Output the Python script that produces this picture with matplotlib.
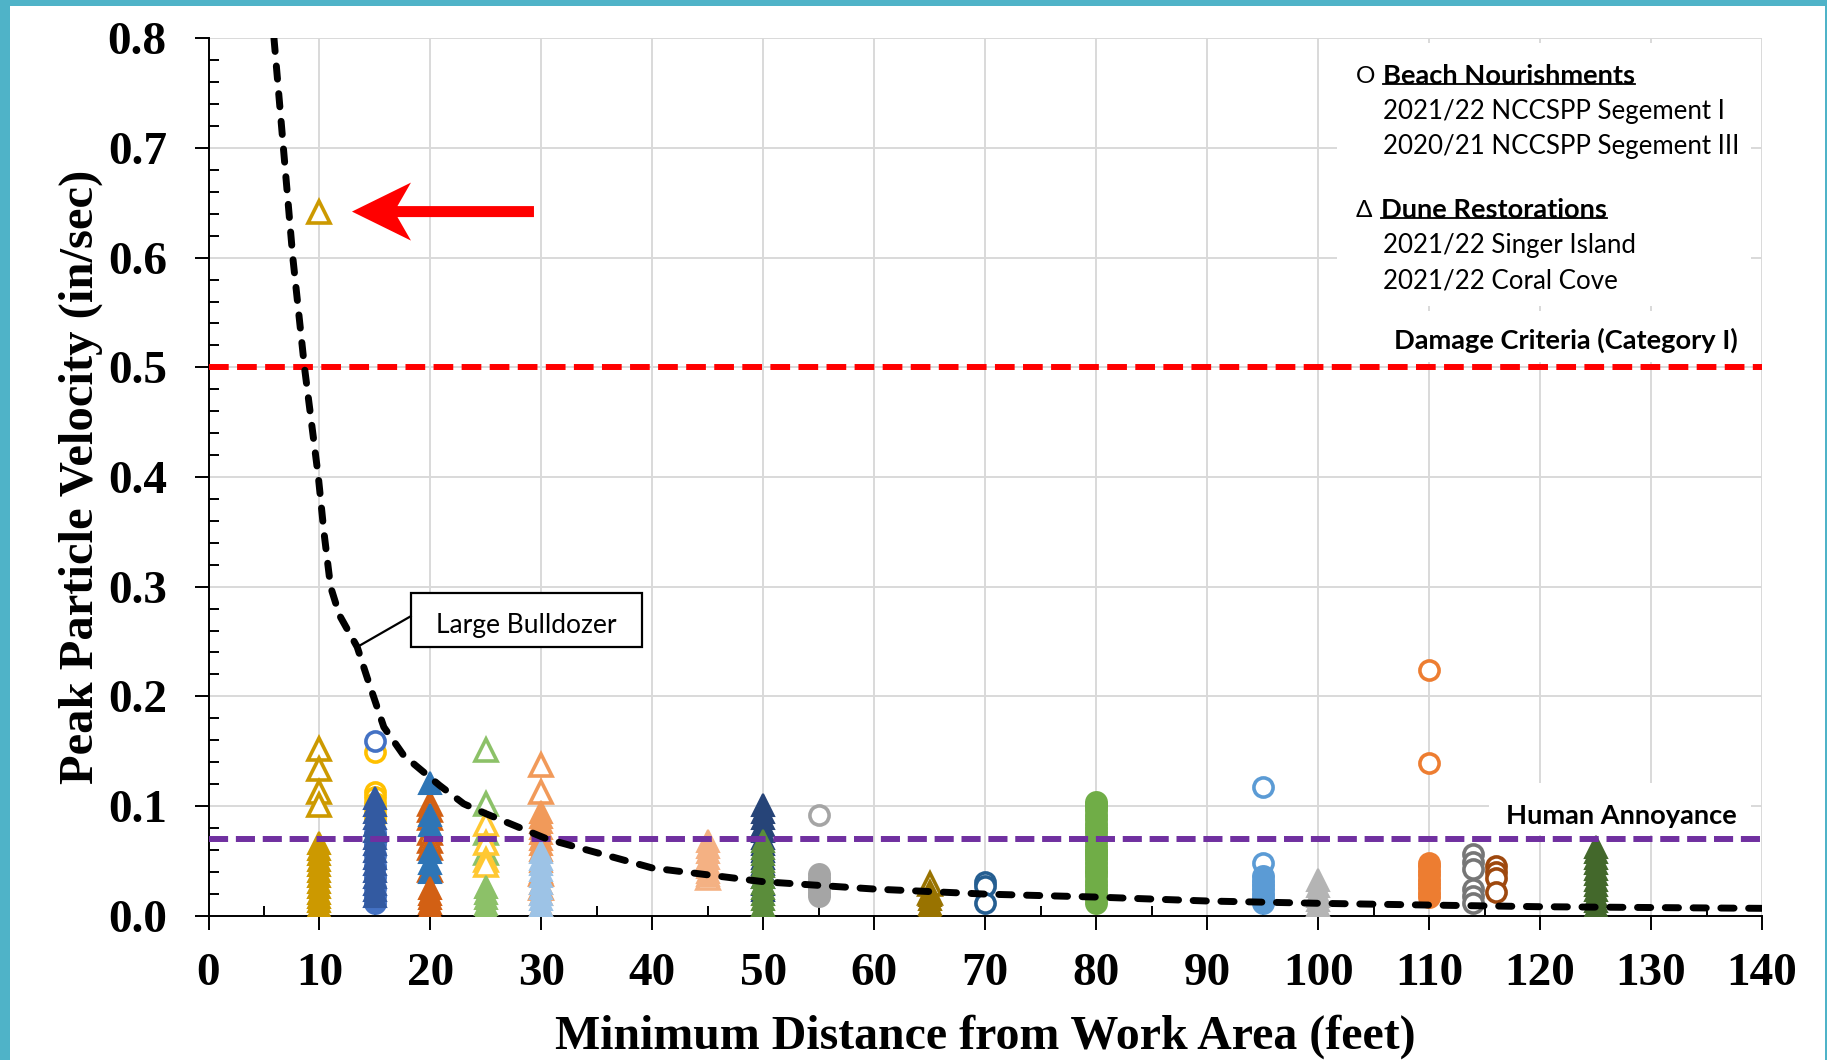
import numpy as np
import matplotlib
matplotlib.use("Agg")
import matplotlib.pyplot as plt
import matplotlib.transforms as mtransforms
from matplotlib.patches import Rectangle, Polygon
from matplotlib.lines import Line2D

W, H = 1827, 1060

# large bulldozer attenuation curve
dozer_dist = [5.9, 6.75, 7.6, 8.65, 9.9, 10.4, 11.0, 11.8, 13.4, 14.3, 15.8, 17.6, 20.8,
              23.0, 25.0, 30.5, 40, 50, 60, 70, 80, 90, 100, 110, 120, 140]
dozer_ppv = [0.80, 0.70, 0.60, 0.50, 0.40, 0.35, 0.30, 0.274, 0.245, 0.217, 0.172, 0.146, 0.119,
             0.102, 0.093, 0.070, 0.0435, 0.031, 0.0243, 0.0197, 0.017, 0.0134, 0.0113, 0.0097,
             0.0082, 0.0067]

damage_ppv = 0.5
annoy_ppv = 0.07

# measured PPV per monitoring distance
# dune restorations (triangles)
d10_open = [0.642, 0.152, 0.134, 0.113, 0.101]
d10_fill = [0.066, 0.061, 0.056, 0.051, 0.046, 0.041, 0.036, 0.031, 0.026, 0.021, 0.017, 0.013,
            0.009, 0.005, 0.002]
d15_fill = [0.107, 0.101, 0.095, 0.089, 0.083, 0.077, 0.071, 0.065, 0.059, 0.053, 0.047, 0.041,
            0.035, 0.029, 0.023, 0.018]
d20_blue = [0.121, 0.092, 0.083, 0.058, 0.048, 0.040]
d20_open = [0.102, 0.096, 0.089, 0.075, 0.068, 0.062, 0.042]
d20_fill = [0.025, 0.020, 0.016, 0.012, 0.008, 0.005, 0.003]
d25_green_open = [0.151, 0.102, 0.075, 0.057]
d25_yellow_open = [0.084, 0.066, 0.051, 0.046]
d25_green_fill = [0.026, 0.021, 0.016, 0.011, 0.007, 0.003]
d30_open = [0.137, 0.113, 0.038, 0.025]
d30_fill = [0.095, 0.090, 0.085, 0.080, 0.075, 0.070, 0.065, 0.060, 0.050, 0.040, 0.030, 0.020,
            0.010]
d30_blue = [0.058, 0.052, 0.047, 0.042, 0.036, 0.030, 0.025, 0.020, 0.015, 0.010, 0.006, 0.002]
d45_open = [0.034]
d45_fill = [0.068, 0.063, 0.058, 0.053, 0.048, 0.044, 0.040, 0.037]
d50_navy = [0.101, 0.095, 0.089, 0.083, 0.077, 0.071, 0.065, 0.059, 0.053, 0.047, 0.041, 0.035,
            0.029, 0.023]
d50_green = [0.068, 0.062, 0.056, 0.050, 0.045, 0.040, 0.035, 0.030, 0.025, 0.020, 0.015, 0.010,
             0.006, 0.003]
d65_open = [0.029, 0.021]
d65_fill = [0.019, 0.015, 0.011, 0.008, 0.005, 0.003]
d100_fill = [0.033, 0.027, 0.022, 0.018, 0.014, 0.010, 0.006, 0.004]
d125_fill = [0.063, 0.058, 0.053, 0.048, 0.043, 0.038, 0.033, 0.028, 0.023, 0.018, 0.013, 0.009]

# beach nourishments (circles)
b15_yellow_open = [0.149, 0.113, 0.108, 0.103, 0.098, 0.093, 0.088]
b15_blue_open = [0.1595]
b15_blue_fill = [0.075, 0.065, 0.055, 0.045, 0.035, 0.025, 0.018, 0.012]
b55_open = [0.092]
b55_fill = [0.038, 0.034, 0.031, 0.027, 0.024, 0.021, 0.018]
b70_open = [0.031, 0.027, 0.012]
b80_open = [0.101, 0.058, 0.054, 0.041, 0.017]
b80_fill = [0.104, 0.100, 0.096, 0.092, 0.088, 0.084, 0.080, 0.076, 0.072, 0.068, 0.064, 0.060,
            0.056, 0.052, 0.048, 0.044, 0.040, 0.036, 0.032, 0.028, 0.024, 0.020, 0.016, 0.012]
b95_open = [0.117, 0.048]
b95_fill = [0.036, 0.032, 0.028, 0.024, 0.020, 0.016, 0.012]
b110_open = [0.224, 0.139, 0.048]
b110_fill = [0.045, 0.041, 0.037, 0.033, 0.029, 0.025, 0.021, 0.017]
b114_open = [0.056, 0.049, 0.043, 0.024, 0.018, 0.012]
b116_open = [0.045, 0.040, 0.034, 0.022]

# (distance, values, colour, marker, hollow) in drawing order
series = [
    (10, d10_open, '#CC9900', '^', True),
    (10, d10_fill, '#CC9900', '^', False),
    (15, b15_yellow_open, '#FFC000', 'o', True),
    (15, b15_blue_open, '#4472C4', 'o', True),
    (15, b15_blue_fill, '#4472C4', 'o', False),
    (15, d15_fill, '#335AA1', '^', False),
    (20, d20_open, '#D26014', '^', True),
    (20, d20_blue, '#2E75B6', '^', False),
    (20, d20_fill, '#D26014', '^', False),
    (25, d25_green_open, '#8CC168', '^', True),
    (25, d25_yellow_open, '#FFC832', '^', True),
    (25, d25_green_fill, '#8CC168', '^', False),
    (30, d30_open, '#F19A5A', '^', True),
    (30, d30_fill, '#F19A5A', '^', False),
    (30, d30_blue, '#9DC3E6', '^', False),
    (45, d45_open, '#F4B183', '^', True),
    (45, d45_fill, '#F4B183', '^', False),
    (50, d50_navy, '#264478', '^', False),
    (50, d50_green, '#5B8D3B', '^', False),
    (55, b55_open, '#A5A5A5', 'o', True),
    (55, b55_fill, '#A5A5A5', 'o', False),
    (65, d65_open, '#997300', '^', True),
    (65, d65_fill, '#997300', '^', False),
    (70, b70_open, '#255E91', 'o', True),
    (80, b80_open, '#70AD47', 'o', True),
    (80, b80_fill, '#70AD47', 'o', False),
    (95, b95_open, '#5B9BD5', 'o', True),
    (95, b95_fill, '#5B9BD5', 'o', False),
    (100, d100_fill, '#B4B4B4', '^', False),
    (110, b110_open, '#ED7D31', 'o', True),
    (110, b110_fill, '#ED7D31', 'o', False),
    (114, b114_open, '#767676', 'o', True),
    (116, b116_open, '#9E480E', 'o', True),
    (125, d125_fill, '#43682B', '^', False),
]

# marker size (pt) by shape and fill
msize = {('o', True): 13.8, ('o', False): 15, ('^', True): 15.5, ('^', False): 16.5}

serif = 'Liberation Serif'
sans = ['Lato', 'DejaVu Sans']

fig = plt.figure(figsize=(W / 100, H / 100), dpi=100)
ax = fig.add_axes([208.5 / W, 144.3 / H, 1553.5 / W, 877.4 / H])

ax.set_xlim(0, 140)
ax.set_ylim(0, 0.8)
ax.set_xticks(np.arange(0, 141, 10))
ax.set_xticks(np.arange(5, 140, 10), minor=True)
ax.set_yticks(np.arange(0, 0.81, 0.1))
ax.set_yticks(np.arange(0, 0.81, 0.02), minor=True)
ax.set_xticklabels([f'{v:d}' for v in range(0, 141, 10)])
ax.set_yticklabels([f'{v:.1f}' for v in np.arange(0, 0.81, 0.1)])
for lab in ax.get_xticklabels() + ax.get_yticklabels():
    lab.set_fontfamily(serif)
    lab.set_fontweight('bold')
    lab.set_fontsize(34)
ax.tick_params(axis='x', which='major', direction='out', length=10, width=1.4, pad=17)
ax.tick_params(axis='x', which='minor', direction='in', length=7.5, width=1.4)
ax.tick_params(axis='y', which='major', direction='out', length=10, width=1.4, pad=20)
ax.tick_params(axis='y', which='minor', direction='in', length=7, width=1.4)
for s in ['top', 'right']:
    ax.spines[s].set_visible(False)
for s in ['left', 'bottom']:
    ax.spines[s].set_linewidth(1.4)
ax.set_axisbelow(True)
ax.grid(True, which='major', color='#D9D9D9', lw=1.4)

# white text boxes hiding the grid
for (x0, y0, x1, y1) in [(101.7, 0.556, 139.0, 0.796), (106.5, 0.5045, 139.0, 0.551),
                         (115.4, 0.0737, 139.0, 0.121)]:
    ax.add_patch(Rectangle((x0, y0), x1 - x0, y1 - y0, fc='white', ec='none', zorder=1))

for x, vals, col, mk, hollow in series:
    xs = np.full(len(vals), x, dtype=float)
    ms = msize[(mk, hollow)]
    if hollow:
        ax.plot(xs, vals, ls='none', marker=mk, ms=ms, mfc='white', mec=col, mew=2.6, zorder=3)
    else:
        ax.plot(xs, vals, ls='none', marker=mk, ms=ms, mfc=col, mec=col, mew=1.5, zorder=3)

ax.axhline(damage_ppv, color='#FF0000', lw=4.3, ls=(0, (3.3, 1.4)), dash_capstyle='butt', zorder=4)
ax.axhline(annoy_ppv, color='#7030A0', lw=4.3, ls=(0, (3.2, 1.3)), dash_capstyle='butt', zorder=4)
ax.plot(dozer_dist, dozer_ppv, color='black', lw=5, ls=(0, (1.9, 2.1)),
        dash_capstyle='round', zorder=5)

# large bulldozer call-out
ax.add_patch(Rectangle((18.22, 0.245), 20.88, 0.049, fc='white', ec='black', lw=1.6, zorder=6))
ax.text(28.66, 0.2695 - 0.005, 'Large Bulldozer', family=sans, fontsize=19, ha='center',
        va='center', zorder=7)
ax.plot([18.22, 13.4], [0.273, 0.245], color='black', lw=1.6, zorder=6)

# red arrow pointing at the 0.64 reading (pixel offsets from that point)
hx, hy = 10, d10_open[0]
arrow_px = [(32.5, 0), (91.5, 29), (78, 5.5), (214.5, 5.5), (214.5, -5.5), (78, -5.5), (91.5, -29)]
tr = mtransforms.Affine2D() + mtransforms.ScaledTranslation(hx, hy, ax.transData)
ax.add_patch(Polygon(arrow_px, closed=True, fc='#FF0000', ec='none', transform=tr, zorder=6))

ax.text(137.8, 0.5325 - 0.008, 'Damage Criteria (Category I)', family=sans, fontsize=19.6,
        fontweight='bold', ha='right', va='center', zorder=7)
ax.text(137.7, 0.0945 - 0.004, 'Human Annoyance', family=sans, fontsize=19.6,
        fontweight='bold', ha='right', va='center', zorder=7)


def fpos(x, y):
    return x / W, 1 - y / H


legend_lines = [
    (1356, 76.5, 'O', 'normal', 17.5),
    (1383, 76.5, 'Beach Nourishments', 'bold', 19.6),
    (1383, 111.5, '2021/22 NCCSPP Segement I', 'normal', 18.6),
    (1383, 146.5, '2020/21 NCCSPP Segement III', 'normal', 18.6),
    (1356, 210, '\u0394', 'normal', 17.5),
    (1381, 210, 'Dune Restorations', 'bold', 19.6),
    (1383, 245, '2021/22 Singer Island', 'normal', 18.6),
    (1383, 280.5, '2021/22 Coral Cove', 'normal', 18.6),
]
heads = []
for x, y, s, wt, fs in legend_lines:
    t = fig.text(*fpos(x, y), s, family=sans, fontsize=fs, fontweight=wt, ha='left', va='center')
    if wt == 'bold':
        heads.append(t)

# axis titles
fig.text(*fpos(985, 1037), 'Minimum Distance from Work Area (feet)', family=serif,
         fontsize=34.5, fontweight='bold', ha='center', va='center')
fig.text(*fpos(81, 477), 'Peak Particle Velocity (in/sec)', family=serif, fontsize=35,
         fontweight='bold', ha='center', va='center', rotation=90)

# underline the legend headings
fig.canvas.draw()
rend = fig.canvas.get_renderer()
for t in heads:
    bb = t.get_window_extent(rend)
    yline = bb.y0 + 0.18 * bb.height
    fig.add_artist(Line2D([bb.x0, bb.x1], [yline, yline], transform=None, color='black', lw=1.3))

# page frame
frame = '#4FB3C8'
fig.add_artist(Rectangle((0, 0), 10 / W, 1, transform=fig.transFigure, fc=frame, ec='none'))
fig.add_artist(Rectangle((0, 1 - 6 / H), 1, 6 / H, transform=fig.transFigure, fc=frame, ec='none'))
fig.add_artist(Rectangle((1 - 2 / W, 0), 2 / W, 1, transform=fig.transFigure, fc=frame, ec='none'))

fig.savefig('out.png', dpi=100)
